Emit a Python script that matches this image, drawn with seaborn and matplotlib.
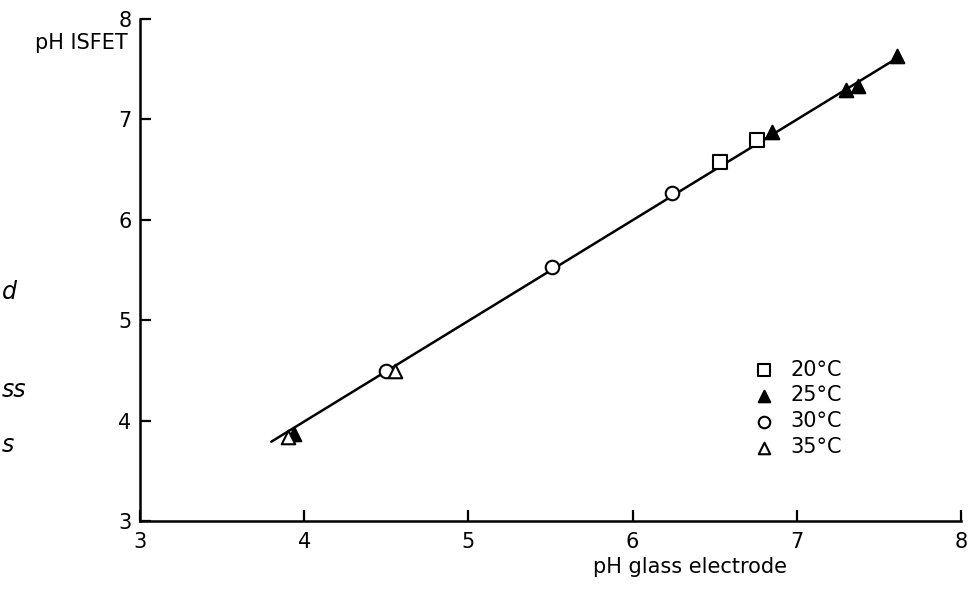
import numpy as np
import pandas as pd
import matplotlib
matplotlib.use("Agg")
import matplotlib.pyplot as plt
import seaborn as sns

# pH measured with the glass electrode (x) vs. the ISFET (y), per temperature
t20_x = [6.53, 6.76]
t20_y = [6.58, 6.79]
t25_x = [3.94, 6.85, 7.30, 7.37, 7.61]
t25_y = [3.87, 6.87, 7.29, 7.33, 7.63]
t30_x = [4.50, 5.51, 6.24]
t30_y = [4.49, 5.53, 6.27]
t35_x = [3.90, 4.55]
t35_y = [3.84, 4.49]

# regression line
fit_x = [3.80, 7.62]
fit_y = [3.79, 7.62]

x_ticks = [3, 4, 5, 6, 7, 8]
y_ticks = [3, 4, 5, 6, 7, 8]

sns.set_theme(style="ticks")
plt.rcParams["font.family"] = ["DejaVu Sans"]
plt.rcParams["text.color"] = "black"
plt.rcParams["axes.labelcolor"] = "black"

fig = plt.figure(figsize=(9.77, 5.89), dpi=100)
ax = fig.add_axes([0.1433, 0.1155, 0.8403, 0.8522])

sns.lineplot(x=fit_x, y=fit_y, ax=ax, color="black", linewidth=1.8, zorder=2)

series = [
    (t20_x, t20_y, "s", "white", "20°C"),
    (t25_x, t25_y, "^", "black", "25°C"),
    (t30_x, t30_y, "o", "white", "30°C"),
    (t35_x, t35_y, "^", "white", "35°C"),
]
for xs, ys, mk, fc, lab in series:
    sns.scatterplot(x=xs, y=ys, ax=ax, marker=mk, s=95, facecolor=fc,
                    edgecolor="black", linewidth=1.5, label=lab, zorder=3)

ax.set_xlim(3, 8)
ax.set_ylim(3, 8)
ax.set_xticks(x_ticks)
ax.set_yticks(y_ticks)
ax.set_xticklabels([str(v) for v in x_ticks], fontsize=15)
ax.set_yticklabels([str(v) for v in y_ticks], fontsize=15)
ax.tick_params(direction="in", length=8, width=1.6, colors="black",
               labelcolor="black", pad=8)
ax.tick_params(axis="y", pad=6)
for side in ("top", "right"):
    ax.spines[side].set_visible(False)
for side in ("left", "bottom"):
    ax.spines[side].set_linewidth(1.8)
    ax.spines[side].set_color("black")

ax.set_xlabel("")
ax.set_ylabel("")
fig.text(0.706, 0.02, "pH glass electrode", fontsize=15, ha="center",
         va="bottom", color="black")
fig.text(0.131, 0.927, "pH ISFET", fontsize=15, ha="right", va="center",
         color="black")

# fragments of the adjacent caption text
for y, s in [(0.505, "d"), (0.338, "ss"), (0.245, "s")]:
    fig.text(0.002, y, s, fontsize=17, style="italic", ha="left",
             va="center", color="black")

leg = ax.legend(loc="upper left", bbox_to_anchor=(0.724, 0.338), frameon=False,
                fontsize=15, handletextpad=0.3, labelspacing=0.28,
                borderaxespad=0, markerscale=0.85)
for t in leg.get_texts():
    t.set_color("black")

fig.savefig("out.png", dpi=100, facecolor="white")
